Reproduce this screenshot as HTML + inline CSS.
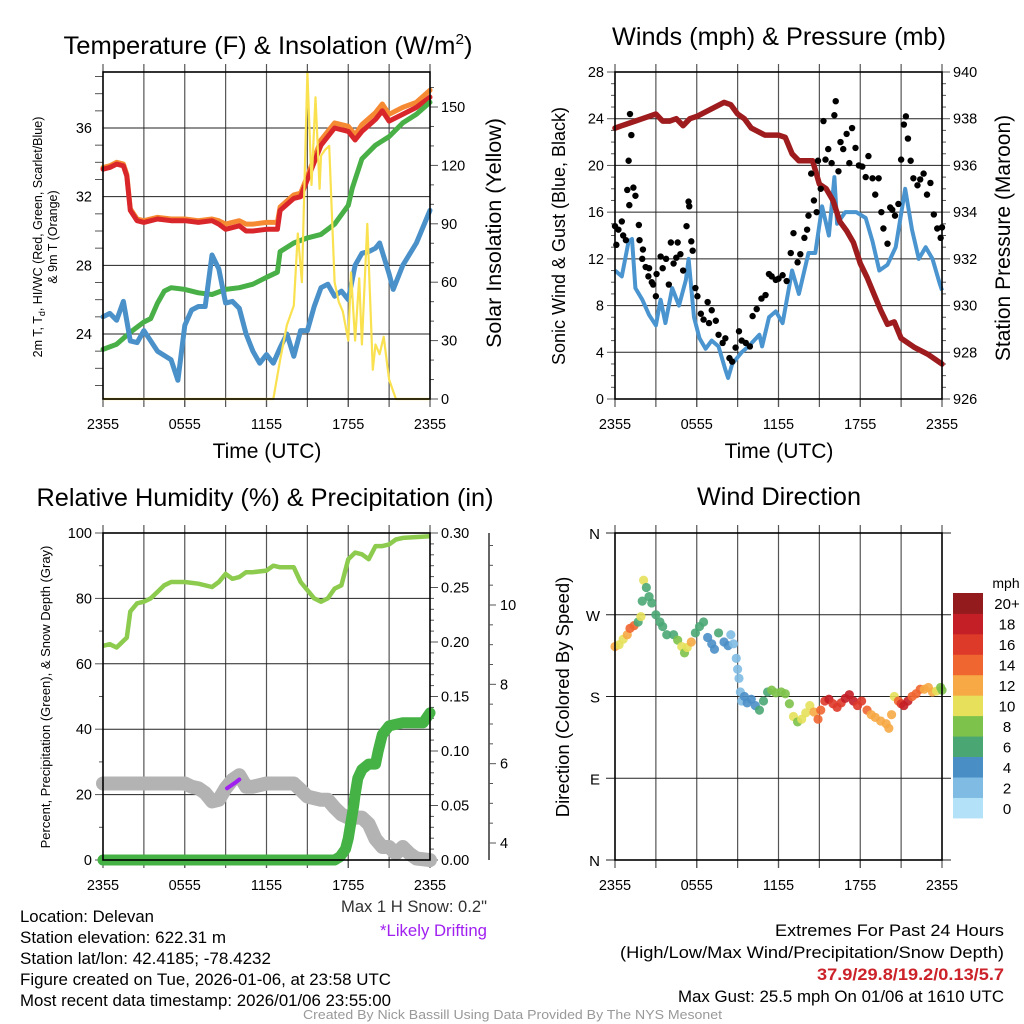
<!DOCTYPE html>
<html><head><meta charset="utf-8"><style>
html,body{margin:0;padding:0;background:#fff;}
svg{display:block;font-family:"Liberation Sans",sans-serif;}
</style></head><body>
<svg id="c" width="1024" height="1024" viewBox="0 0 1024 1024" xmlns="http://www.w3.org/2000/svg">
<rect width="1024" height="1024" fill="#fff"/>
<g id="g"></g>
<text x="268" y="54" font-size="25" text-anchor="middle" textLength="409" lengthAdjust="spacingAndGlyphs">Temperature (F) &amp; Insolation (W/m<tspan dy="-10" font-size="15">2</tspan><tspan dy="10">)</tspan></text>
<text x="779" y="45" font-size="25" text-anchor="middle" textLength="334" lengthAdjust="spacingAndGlyphs">Winds (mph) &amp; Pressure (mb)</text>
<text x="265" y="506" font-size="25" text-anchor="middle" textLength="457" lengthAdjust="spacingAndGlyphs">Relative Humidity (%) &amp; Precipitation (in)</text>
<text x="779" y="505" font-size="25" text-anchor="middle" textLength="164" lengthAdjust="spacingAndGlyphs">Wind Direction</text>

<text transform="translate(42,237) rotate(-90)" font-size="12.5" text-anchor="middle">2m T, T<tspan font-size="9" dy="3">d</tspan><tspan dy="-3">, HI/WC (Red, Green, Scarlet/Blue)</tspan></text>
<text transform="translate(57,237) rotate(-90)" font-size="12.5" text-anchor="middle">&amp; 9m T (Orange)</text>
<text transform="translate(501,233) rotate(-90)" font-size="21.5" text-anchor="middle">Solar Insolation (Yellow)</text>
<text x="267" y="458" font-size="21" text-anchor="middle">Time (UTC)</text>

<text transform="translate(565,236) rotate(-90)" font-size="18" text-anchor="middle">Sonic Wind &amp; Gust (Blue, Black)</text>
<text transform="translate(1010,238) rotate(-90)" font-size="21" text-anchor="middle">Station Pressure (Maroon)</text>
<text x="779" y="458" font-size="21" text-anchor="middle">Time (UTC)</text>

<text transform="translate(50,697) rotate(-90)" font-size="13" text-anchor="middle">Percent, Precipitation (Green), &amp; Snow Depth (Gray)</text>
<text transform="translate(569,697) rotate(-90)" font-size="18.5" text-anchor="middle">Direction (Colored By Speed)</text>

<text x="1006" y="588" font-size="14" text-anchor="middle">mph</text>

<g font-size="16.5" lengthAdjust="spacingAndGlyphs">
<text x="20" y="922" textLength="134" lengthAdjust="spacingAndGlyphs">Location: Delevan</text>
<text x="20" y="943" textLength="206" lengthAdjust="spacingAndGlyphs">Station elevation: 622.31 m</text>
<text x="20" y="964" textLength="251" lengthAdjust="spacingAndGlyphs">Station lat/lon: 42.4185; -78.4232</text>
<text x="20" y="985" textLength="371" lengthAdjust="spacingAndGlyphs">Figure created on Tue, 2026-01-06, at 23:58 UTC</text>
<text x="20" y="1006" textLength="371" lengthAdjust="spacingAndGlyphs">Most recent data timestamp: 2026/01/06 23:55:00</text>
<text x="341" y="912" textLength="146" lengthAdjust="spacingAndGlyphs" fill="#333">Max 1 H Snow: 0.2"</text>
<text x="380" y="936" textLength="107" lengthAdjust="spacingAndGlyphs" fill="#a020f0">*Likely Drifting</text>
<text x="775" y="936" textLength="229" lengthAdjust="spacingAndGlyphs">Extremes For Past 24 Hours</text>
<text x="620" y="958" textLength="384" lengthAdjust="spacingAndGlyphs">(High/Low/Max Wind/Precipitation/Snow Depth)</text>
<text x="817" y="980" textLength="187" lengthAdjust="spacingAndGlyphs" fill="#cc2229" font-weight="bold">37.9/29.8/19.2/0.13/5.7</text>
<text x="678" y="1002" textLength="326" lengthAdjust="spacingAndGlyphs">Max Gust: 25.5 mph On 01/06 at 1610 UTC</text>
<text x="303" y="1019" textLength="419" lengthAdjust="spacingAndGlyphs" font-size="13" fill="#999">Created By Nick Bassill Using Data Provided By The NYS Mesonet</text>
</g>
</svg>
<script>
// ---- Data ----
const xTickLabels=["2355","0555","1155","1755","2355"];
// Panel 1
const tempT=[0,0.5,1,1.5,1.75,2,2.5,3,4,5,6,7,8,8.5,9,10,10.5,11,12,12.8,13,14,14.5,15,16,17,18,18.5,19,20,20.5,21,22,23,24];
const tempV=[33.6,33.7,33.9,33.8,33.2,31.2,30.6,30.5,30.7,30.6,30.6,30.5,30.6,30.4,30.1,30.3,30.0,30.0,30.1,30.1,31.2,31.9,32.0,33.0,35.0,36.0,35.8,35.3,35.8,36.5,37.0,36.4,36.8,37.2,37.8];
const temp9V=[33.7,33.8,34.0,33.9,33.3,31.3,30.7,30.6,30.8,30.7,30.7,30.6,30.7,30.6,30.4,30.6,30.4,30.4,30.5,30.5,31.4,32.1,32.2,33.2,35.3,36.3,36.1,35.6,36.2,36.9,37.4,36.8,37.2,37.5,38.2];
const dewT=[0,1,2,3,3.5,4,4.5,5,6,7,8,9,10,11,12,12.8,13,14,15,16,17,18,18.3,19,19.5,20,21,22,23,24];
const dewV=[23.1,23.4,24.1,24.7,24.9,25.8,26.5,26.7,26.6,26.4,26.3,26.6,26.7,26.9,27.3,27.6,28.8,29.3,29.6,29.8,30.4,31.5,32.5,34.2,34.6,35.0,35.5,36.3,36.8,37.5];
const wcT=[0,0.5,1,1.5,2,2.5,3,3.5,4,5,5.5,6,6.5,7,7.5,8,8.5,9,9.5,10,10.5,11,11.5,12,12.5,13,13.5,14,14.5,15,15.5,16,16.5,17,17.5,18,18.5,19,19.5,20,20.3,21,21.3,22,23,24];
const wcV=[25.0,25.2,24.8,25.9,23.6,23.5,24.2,23.6,23.0,22.5,21.3,24.5,25.4,25.6,25.6,28.6,27.8,25.8,25.9,25.5,24.0,23.0,22.3,22.8,22.3,23.2,24.0,22.7,24.2,24.2,25.6,26.7,26.9,26.2,26.5,26.0,28.0,28.7,28.8,29.0,29.3,27.5,26.6,28.0,29.3,31.2];
const solT=[0,12.5,13,13.5,14,14.3,14.6,15,15.3,15.6,15.9,16,16.3,16.6,17,17.3,17.6,18,18.2,18.5,18.8,19,19.4,19.8,20,20.3,20.6,21,21.5,24];
const solV=[0,0,20,38,48,85,60,168,110,155,108,125,128,130,60,50,45,30,65,30,62,28,90,15,28,23,32,10,0,0];
// Panel 2
const windT=[0,0.5,1,1.25,1.5,2,2.5,3,3.35,3.7,4.2,4.7,5.2,5.4,5.8,6.2,6.65,7.1,7.6,8.1,8.3,8.6,9.3,9.8,10.6,10.8,11.3,11.8,12.3,13,13.5,14.2,14.7,15.2,15.7,16.1,16.3,16.9,17.7,18.4,18.9,19.4,20,20.6,21.3,21.8,22.3,22.8,23.3,23.8,24];
const windV=[11,10.5,13.5,13.7,9.5,8.5,7.2,6.3,8.5,6.5,9.5,8,10.2,12,7,5.2,4.3,5,4.5,2.5,1.8,3,4,4.5,5.5,4.5,7,7.5,6.5,11,9,12.5,12.5,16.5,14,19,15,16,16,15.5,13.5,11,11.5,13,18,14.5,12,13,12,10,9.3];
const gustT=[0,0.1,0.25,0.5,0.6,0.8,0.9,1.0,1.05,1.1,1.2,1.35,1.5,1.75,1.8,2.0,2.05,2.25,2.45,2.5,2.7,2.8,3.0,3.05,3.35,3.5,3.75,3.95,4.1,4.3,4.5,4.6,4.8,5.0,5.25,5.4,5.45,5.6,5.7,5.9,6.05,6.3,6.5,6.8,6.9,7.1,7.4,7.6,7.9,8.1,8.4,8.6,8.85,9.1,9.3,9.6,9.9,10.1,10.4,10.75,11.05,11.3,11.5,11.8,12.0,12.3,12.6,12.9,13.1,13.4,13.6,13.9,14.1,14.2,14.4,14.6,14.8,14.9,15.1,15.3,15.45,15.65,15.9,16.1,16.2,16.4,16.55,16.75,17.0,17.2,17.4,17.65,17.9,18.15,18.4,18.6,18.9,19.1,19.35,19.55,19.7,20.0,20.2,20.35,20.55,20.8,21.0,21.2,21.35,21.5,21.7,21.9,22.2,22.4,22.65,22.9,23.15,23.4,23.65,23.9,24];
const gustV=[14.8,13.2,14.5,15.2,14,13.6,17.9,20.4,16.6,24.4,22.6,18.1,17.4,14.9,13.6,12,12.8,11.3,10.5,11.2,10,9.8,8.8,10.7,12.2,11.2,12.0,9.8,13.4,11.6,12.1,13.4,12.4,11.0,14.8,16.9,16.5,13.5,12.7,9.5,8.8,7.3,6.8,8.3,6.5,7.6,6.7,5.5,4.8,5.2,3.5,3.2,4.4,5.8,5.0,4.8,4.5,7.1,7.7,8.6,8.9,10.7,10.5,10.2,10.3,10.6,10.1,12.5,14.2,11.7,12.4,13.8,14.5,15.7,19.3,17.0,16.0,20.4,18.0,23.8,20.5,21.4,20.2,24.3,25.5,19.5,22.0,21.4,22.7,20.2,23.2,21.5,20.0,19.9,19.0,20.8,18.9,17.5,18.9,16.0,14.6,13.3,16.4,16.2,15.7,16.7,20.5,23.5,24.2,22.3,20.4,18.9,18.3,18.8,19.3,17.5,18.5,15.8,14.6,13.8,14.7];
const presT=[0,0.5,1,2,3,3.5,4,4.5,5,5.5,6,7,8,8.5,9,9.5,10,11,12,12.5,13,13.5,14,14.5,15,15.5,16,16.5,17,17.5,18,18.5,19,19.5,20,20.5,21,22,23,24];
const presV=[937.6,937.7,937.8,938.0,938.2,937.9,937.9,938.0,937.7,938.0,938.1,938.4,938.7,938.6,938.2,938.0,937.6,937.3,937.3,937.2,936.5,936.2,936.2,936.2,935.2,935.0,934.5,933.6,933.2,932.7,931.8,931.2,930.5,929.8,929.2,929.3,928.6,928.2,927.9,927.5];
// Panel 3
const rhT=[0,0.5,1,1.5,1.75,2,2.5,3,3.5,4,4.5,5,6,7,8,8.5,9,9.5,10,10.5,11,12,12.5,13,14,14.5,15,15.5,16,16.5,17,17.5,18,18.5,19,19.5,20,20.5,21,21.5,22,24];
const rhV=[65.5,66,65,67,68,76,78.5,79,80,82,84,85,85,84.5,83.5,85,87.5,86,86.5,88,88,88.5,90,89.5,89.5,85,82.5,80,79,80,83,84,92,94,93.5,92,96,96,96.5,98,98.5,99];
const prT=[0,17.0,17.4,17.8,18.0,18.2,18.4,18.5,18.7,19,19.5,20,20.2,20.5,21,22,23.5,24];
const prV=[0,0,0.003,0.01,0.02,0.035,0.05,0.06,0.075,0.083,0.088,0.088,0.1,0.115,0.123,0.126,0.126,0.135];
const snT=[0,6,6.5,7,7.5,8,8.5,9,9.5,10,10.5,11,12,13,14,14.5,15,16,16.5,17,17.5,18,19,19.5,20,20.5,21,21.5,22,22.5,23,24];
const snV=[5.50,5.50,5.42,5.38,5.26,5.05,5.09,5.38,5.59,5.71,5.42,5.42,5.50,5.50,5.50,5.34,5.17,5.09,5.09,4.89,4.72,4.64,4.64,4.48,4.10,3.90,3.90,3.73,3.90,3.73,3.61,3.57];
const driftT=[9.1,9.4,9.7,10.0];
const driftV=[5.38,5.45,5.52,5.6];
// Panel 4
const dirT=[0,0.3,0.6,0.9,1.1,1.4,1.7,1.9,2.0,2.1,2.3,2.5,2.7,3.0,3.3,3.5,3.8,4.3,4.6,4.9,5.1,5.3,5.6,5.9,6.2,6.5,6.8,7.1,7.3,7.6,8.0,8.3,8.5,8.7,8.9,9.0,9.1,9.2,9.3,9.5,9.7,10.0,10.3,10.6,10.9,11.2,11.5,11.8,12.2,12.5,12.8,13.1,13.4,13.7,14.0,14.3,14.6,14.9,15.1,15.4,15.7,16.0,16.3,16.6,16.9,17.2,17.5,17.8,18.1,18.5,18.8,19.1,19.5,19.9,20.1,20.3,20.5,20.8,21.0,21.2,21.5,21.8,22.1,22.4,22.7,23.0,23.3,23.6,23.9,24.0];
const dirV=[235,237,243,248,255,258,262,268,285,308,300,290,283,270,262,257,248,248,242,235,228,234,240,250,257,262,245,238,232,250,240,236,248,238,222,210,200,185,175,180,173,177,170,165,175,185,187,184,185,183,172,158,152,155,162,170,163,155,165,175,177,172,168,173,178,182,175,170,175,165,160,157,153,150,145,160,180,175,172,170,175,180,183,188,188,190,185,186,190,187];
const dirSpd=[12,11,10,12,15,14,7,10,7,10,7,6,7,6,6,7,7,7,8,10,8,10,12,6,7,6,4,4,4,6,4,4,3,3,2,2,2,2,2,4,4,4,4,6,6,6,8,8,8,8,8,10,8,10,10,10,12,14,15,16,18,17,16,17,18,18,18,16,17,14,13,13,12,12,12,12,10,14,16,19,18,15,14,14,12,12,12,10,8,8];
const cbLabels=["0","2","4","6","8","10","12","14","16","18","20+"];
const cbColors=["#b3e1f7","#7fbbe3","#4a8ec6","#4aa774","#7dc24a","#e6e05a","#f6a944","#ef6630","#de3a2a","#c41e26","#931b1e"];

// ---- Drawing ----
const NS="http://www.w3.org/2000/svg";
const G=document.getElementById('g');
function el(tag,attrs,parent){const e=document.createElementNS(NS,tag);for(const k in attrs)e.setAttribute(k,attrs[k]);(parent||G).appendChild(e);return e;}
function lin(d0,d1,r0,r1){return v=>r0+(v-d0)*(r1-r0)/(d1-d0);}
function pathD(ts,vs,sx,sy){return ts.map((t,i)=>(i?'L':'M')+sx(t).toFixed(1)+','+sy(vs[i]).toFixed(1)).join('');}
function txt(x,y,s,size,anchor,name){const t=el('text',{x:x,y:y,'font-size':size,'text-anchor':anchor||'middle'});t.textContent=s;


return t;}

function frame(x0,x1,y0,y1,name){
  const sx=lin(0,24,x0,x1);
  const g=el('g',{});
  
  
  for(let h=3;h<24;h+=3){el('line',{x1:sx(h),x2:sx(h),y1:y0-8,y2:y1+8,stroke:'#555','stroke-width':1.2},g);}
  for(let i=0;i<5;i++){const h=i*6;el('line',{x1:sx(h),x2:sx(h),y1:y1,y2:y1+8,stroke:'#555','stroke-width':1.2},g);
    txt(sx(h),y1+30,xTickLabels[i],14.5,'middle','x-tick-label');}
  el('line',{x1:sx(0),x2:sx(0),y1:y0-8,y2:y0,stroke:'#555','stroke-width':1.2},g);
  el('line',{x1:sx(24),x2:sx(24),y1:y0-8,y2:y0,stroke:'#555','stroke-width':1.2},g);
  return sx;
}
function box(x0,x1,y0,y1){el('rect',{x:x0,y:y0,width:x1-x0,height:y1-y0,fill:'none',stroke:'#000','stroke-width':1.6});}
function yAxis(x,sy,min,max,major,minor,labels,side,grid,x1,fmt){
  for(let v=min;v<=max+1e-9;v+=minor){const y=sy(v);const isM=Math.abs(((v-min)/major)-Math.round((v-min)/major))<1e-6;
    const L=isM?8:4;el('line',{x1:x,x2:x+(side<0?-L:L),y1:y,y2:y,stroke:'#555','stroke-width':1});}
  labels.forEach(v=>{const y=sy(v);if(grid)el('line',{x1:grid,x2:x1,y1:y,y2:y,stroke:'#222','stroke-width':1});
    txt(side<0?x-11:x+11,y+5,fmt?fmt(v):String(v),14.5,side<0?'end':'start','y-tick-label');});
}

// Panel 1
(function(){
  const x0=103,x1=430,y0=72,y1=399;
  const sx=frame(x0,x1,y0,y1,'temperature');
  const sy=lin(24,36,334,128), sr=lin(0,150,399,107);
  yAxis(x0,sy,21,39,2,2,[24,28,32,36],-1,x0,x1);
  for(let v=22;v<=38;v+=4) el('line',{x1:x0,x2:x0-8,y1:sy(v),y2:sy(v),stroke:'#555'});
  yAxis(x1,sr,0,160,30,10,[0,30,60,90,120,150],1,null);
  const series=[[temp9V,'#f68a33',tempT],[tempV,'#d9262b',tempT],[dewV,'#48b046',dewT],[wcV,'#4a90c9',wcT]];
  const names=['nine-meter-temp-line','temperature-line','dewpoint-line','wind-chill-line'];
  series.forEach((s,i)=>{const p=el('path',{d:pathD(s[2],s[0],sx,sy),fill:'none',stroke:s[1],'stroke-width':5,'stroke-linejoin':'round','stroke-linecap':'round'});
    
    });
  const sp=el('path',{d:pathD(solT,solV,sx,sr),fill:'none',stroke:'#f9e150','stroke-width':2.2,'stroke-linejoin':'round'});
  
  
  box(x0,x1,y0,y1);
})();

// Panel 2
(function(){
  const x0=615,x1=942,y0=72,y1=399;
  const sx=frame(x0,x1,y0,y1,'winds');
  const sy=lin(0,28,399,72), sp=lin(926,940,399,72);
  yAxis(x0,sy,0,28,4,1,[0,4,8,12,16,20,24,28],-1,x0,x1);
  yAxis(x1,sp,926,940,2,0.5,[926,928,930,932,934,936,938,940],1,null);
  const w=el('path',{d:pathD(windT,windV,sx,sy),fill:'none',stroke:'#4a95d0','stroke-width':4,'stroke-linejoin':'round'});
  
  
  const p=el('path',{d:pathD(presT,presV,sx,sp),fill:'none',stroke:'#9e1b1e','stroke-width':5.5,'stroke-linejoin':'round','stroke-linecap':'round'});
  
  
  gustT.forEach((t,i)=>{const c=el('circle',{cx:sx(t),cy:sy(gustV[i]),r:3.2,fill:'#000'});
    
    });
  box(x0,x1,y0,y1);
})();

// Panel 3
(function(){
  const x0=103,x1=430,y0=533,y1=860;
  const sx=frame(x0,x1,y0,y1,'humidity');
  const sy=lin(0,100,860,533), spr=lin(0,0.3,860,533), ssn=lin(4,10,843,605);
  yAxis(x0,sy,0,100,20,10,[0,20,40,60,80,100],-1,x0,x1);
  yAxis(x1,spr,0,0.3,0.05,0.01,[0,0.05,0.1,0.15,0.2,0.25,0.3],1,null,null,v=>v.toFixed(2));
  el('line',{x1:489,x2:489,y1:533,y2:860,stroke:'#333','stroke-width':1.5});
  for(let v=3.5;v<=11.5;v+=0.5){const y=ssn(v);if(y<533||y>860)continue;const M=Math.abs(v-Math.round(v))<1e-6&&Math.round(v)%2===0;
    el('line',{x1:489,x2:489+(M?7:4),y1:y,y2:y,stroke:'#555'});}
  [4,6,8,10].forEach(v=>txt(500,ssn(v)+5,String(v),14.5,'start','snow-tick-label'));
  const g=el('path',{d:pathD(snT,snV,sx,ssn),fill:'none',stroke:'#b3b3b3','stroke-width':14,'stroke-linejoin':'round','stroke-linecap':'round'});
  
  
  const d=el('path',{d:pathD(driftT,driftV,sx,ssn),fill:'none',stroke:'#a020f0','stroke-width':4,'stroke-linecap':'round'});
  
  
  const r=el('path',{d:pathD(rhT,rhV,sx,sy),fill:'none',stroke:'#8dcb4f','stroke-width':4.5,'stroke-linejoin':'round'});
  
  
  const pr=el('path',{d:pathD(prT,prV,sx,spr),fill:'none',stroke:'#44b244','stroke-width':11,'stroke-linejoin':'round','stroke-linecap':'round'});
  
  
  box(x0,x1,y0,y1);
})();

// Panel 4
(function(){
  const x0=615,x1=942,y0=533,y1=860;
  const sx=frame(x0,x1,y0,y1,'wind-direction');
  const sy=lin(0,360,860,533);
  const dl=["N","E","S","W","N"];
  dl.forEach((s,i)=>{const y=sy(i*90);el('line',{x1:x0-9,x2:x1+9,y1:y,y2:y,stroke:'#222','stroke-width':1});
    txt(x0-15,y+6,s,15,'end','direction-tick-label');});
  dirT.forEach((t,i)=>{const k=Math.min(10,Math.floor(dirSpd[i]/2));
    const c=el('circle',{cx:sx(t),cy:sy(dirV[i]),r:4.6,fill:cbColors[k],'fill-opacity':0.9});
    
    });
  box(x0,x1,y0,y1);
  const h=225/11;
  cbColors.forEach((col,i)=>{const y=818-(i+1)*h;
    const r=el('rect',{x:953,y:y,width:30,height:h+0.4,fill:col});
    
    
    txt(1007,y+h/2+6,cbLabels[i],15,'middle','colorbar-label');});
})();
</script>
</body></html>
